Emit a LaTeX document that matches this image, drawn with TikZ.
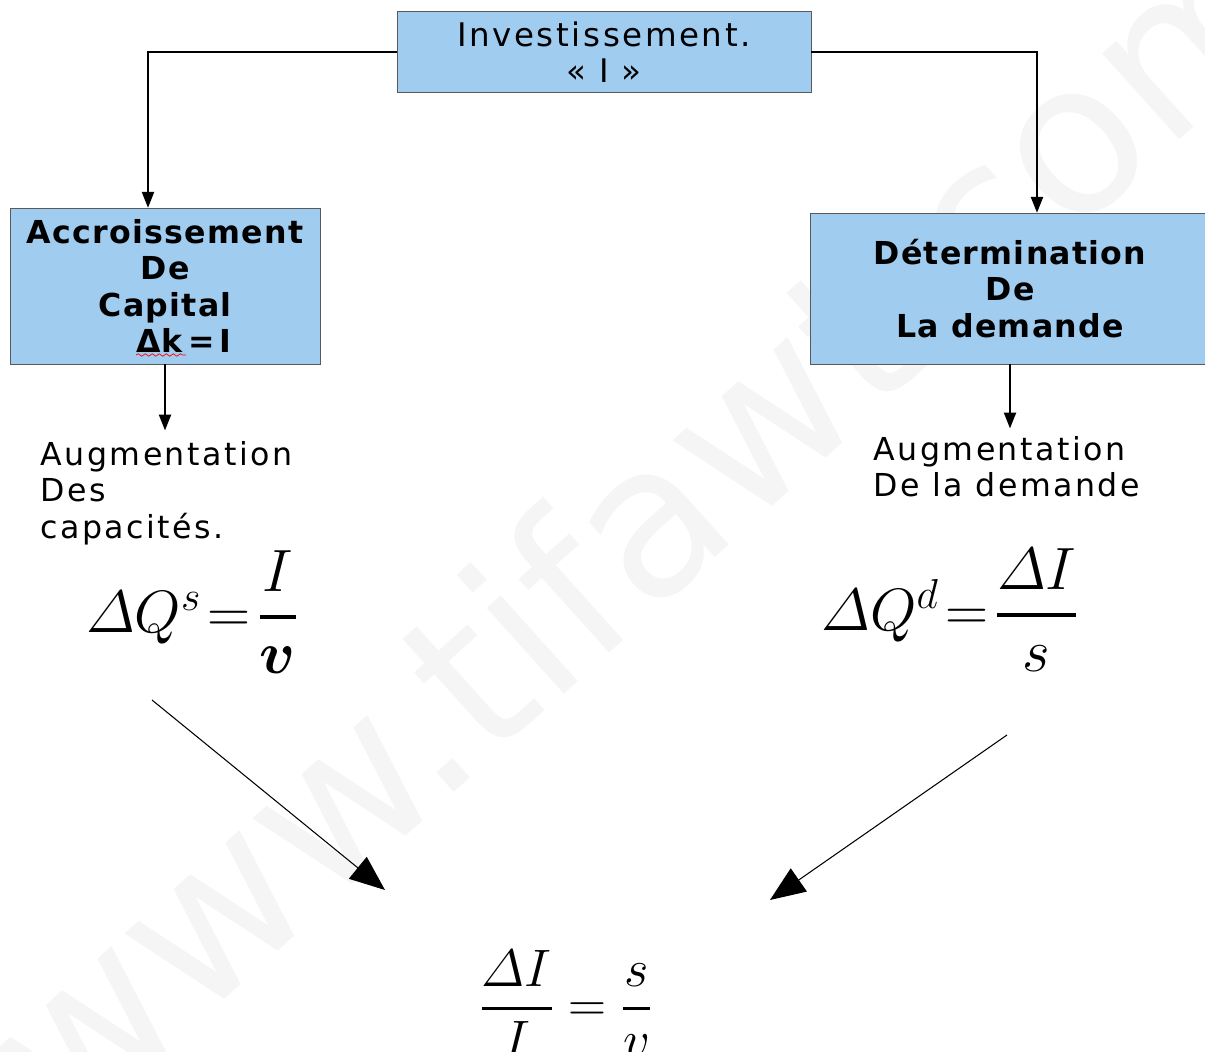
\RequirePackage{fix-cm}
\documentclass[tikz,border=0pt]{standalone}
\usepackage{amsmath}
\usepackage{fontspec}
\setmainfont{DejaVu Sans}
\newfontfamily\comic[LetterSpace=8]{DejaVu Sans}
\newfontfamily\comicb[LetterSpace=4]{DejaVu Sans Bold}
\usetikzlibrary{positioning}
\usetikzlibrary{arrows.meta}
\usetikzlibrary{decorations.pathmorphing}
\definecolor{boxblue}{RGB}{160,204,240}
\tikzset{
    box/.style = {rectangle, draw=black!65, fill=boxblue, align=center, inner sep=0pt},
    plain/.style = {align=left, inner sep=0pt},
    edgen/.style = {-{Triangle[length=9pt,width=7pt]},thick},
    edged/.style = {-{Triangle[length=20pt,width=16pt]},semithick},
    wavy/.style = {red, decorate, decoration={snake,amplitude=0.7pt,segment length=4pt}}
}
\begin{document}
\begin{tikzpicture}[x=0.02cm,y=-0.02cm]
\useasboundingbox (0,0) rectangle (1205,1052);
% watermark
\node[rotate=42,text=black!4,font=\fontsize{120}{120}\selectfont] at (640,520) (wm) {www.tifawt.com};
%
\node[box, minimum width=8.28cm, minimum height=1.62cm, font=\comic\fontsize{18.5}{20.5}\selectfont] at (604,52) (inv) {Investissement.\\« I »};
\node[box, minimum width=6.2cm, minimum height=3.12cm, font=\comicb\fontsize{18}{20.7}\selectfont] at (165,286) (acc) {Accroissement\\De\\Capital\\\hspace*{1.2em}Δk\,=\,I};
\node[box, minimum width=8.0cm, minimum height=3.02cm, font=\comicb\fontsize{18}{20.7}\selectfont] at (1010,288.5) (det) {Détermination\\De\\La demande};
%
\node[plain, anchor=north west, font=\comic\fontsize{18}{20.7}\selectfont] at (40,441) (augl) {Augmentation\\Des\\capacités.};
\node[plain, anchor=north west, font=\comic\fontsize{18}{20.7}\selectfont] at (873,436) (augr) {Augmentation\\De la demande};
%
\node[font=\fontsize{34}{40}\selectfont] at (192,612) (qs) {$\varDelta Q^{s}\!=\!\genfrac{}{}{2.5pt}{0}{I}{\boldsymbol{v}}$};
\node[font=\fontsize{34}{40}\selectfont] at (950,610) (qd) {$\varDelta Q^{d}\!=\!\genfrac{}{}{2.5pt}{0}{\varDelta I}{s}$};
\node[font=\fontsize{30}{36}\selectfont] at (566,1004) (res) {$\genfrac{}{}{1.5pt}{0}{\varDelta I}{I}=\genfrac{}{}{1.5pt}{0}{s}{v}$};
%
\draw[wavy] (136,355) -- (186,355);
%
\draw[edgen] (inv.west) -| ([xshift=-0.34cm]acc.north);
\draw[edgen] (inv.east) -| ([xshift=0.54cm]det.north);
\draw[edgen] (acc.south) -- ++(0,66);
\draw[edgen] (det.south) -- ++(0,64);
%
\coordinate (ls) at (152,700);
\coordinate (le) at (385,890);
\coordinate (rs) at (1007,735);
\coordinate (re) at (770,900);
\draw[edged] (ls) -- (le);
\draw[edged] (rs) -- (re);
\end{tikzpicture}
\end{document}
